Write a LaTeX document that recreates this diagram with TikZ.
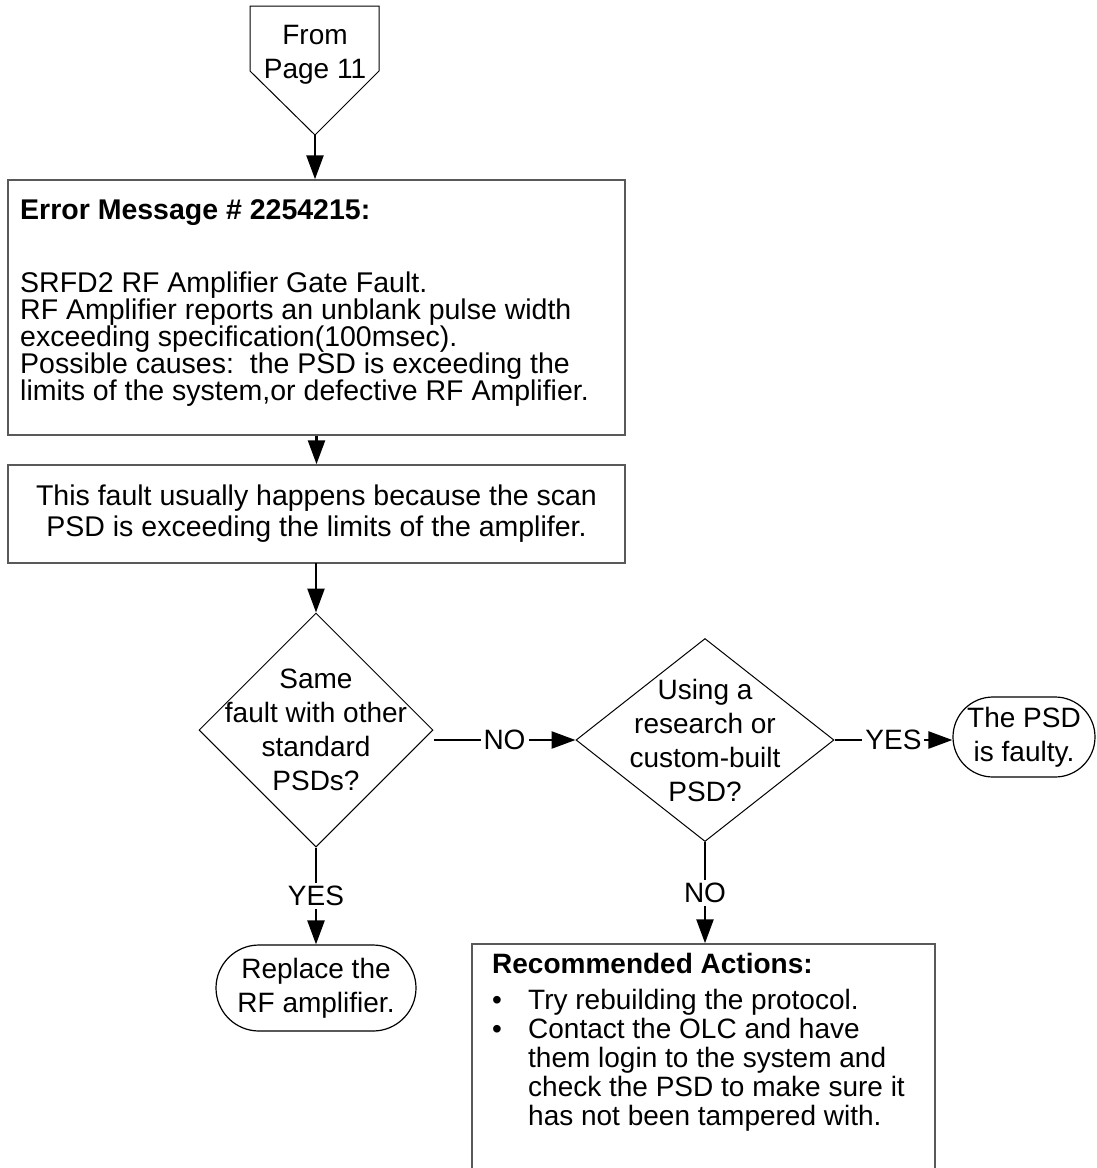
\documentclass[tikz,border=0pt]{standalone}
\usepackage{fontspec}
\setmainfont{Liberation Sans}
\usetikzlibrary{arrows.meta,shapes.geometric,shapes.misc}
\begin{document}
\begin{tikzpicture}[x=1pt,y=-1pt,
  every node/.style={font=\fontsize{28}{34}\selectfont},
  box/.style={draw=black!65, line width=1.5pt, fill=white, inner sep=0pt},
  boxtext/.style={inner sep=0pt, font=\fontsize{28.5}{27}\selectfont},
  decision/.style={diamond, draw, line width=1pt, inner sep=0pt},
  terminal/.style={rounded rectangle, draw, line width=1.2pt, fill=white, inner sep=0pt, align=center},
  flow/.style={line width=2.5pt, -{Triangle[length=24pt,width=17pt]}},
  lbl/.style={fill=white, inner sep=3pt},
  txt/.style={inner sep=0pt, align=center}]
\useasboundingbox (0,0) rectangle (1096,1168);
\clip (0,0) rectangle (1096,1168);

% off-page connector
\draw[line width=1pt] (250,6) -- (379,6) -- (379,71) -- (315,135) -- (250,71) -- cycle;
\node[txt] (src) at (315,55) {From\\Page 11};
\coordinate (srctip) at (315,135);

% error message box
\node[box, minimum width=617pt, minimum height=255pt] (err) at (316.5,307.5) {};
\node[boxtext, anchor=north west, align=left] (errtxt) at (20,199)
  {\textbf{Error Message \# 2254215:}\\[46pt]
   SRFD2 RF Amplifier Gate Fault.\\
   RF Amplifier reports an unblank pulse width\\
   exceeding specification(100msec).\\
   Possible causes:\ \ the PSD is exceeding the\\
   limits of the system,or defective RF Amplifier.};

% explanation box
\node[box, minimum width=617pt, minimum height=98pt] (why) at (316.5,514) {};
\node[boxtext, font=\fontsize{28.5}{31}\selectfont, align=center] (whytxt) at (why)
  {This fault usually happens because the scan\\
   PSD is exceeding the limits of the amplifer.};

% decisions
\node[decision, minimum width=234pt, minimum height=234pt] (d1) at (316,730) {};
\node[txt] (d1txt) at (d1) {Same\\fault with other\\standard\\PSDs?};
\node[decision, minimum width=258pt, minimum height=203pt] (d2) at (705,740) {};
\node[txt] (d2txt) at (d2) {Using a\\research or\\custom-built\\PSD?};

% terminals
\node[terminal, minimum width=200pt, minimum height=86pt] (rep) at (316,988) {Replace the\\RF amplifier.};
\node[terminal, minimum width=142pt, minimum height=80pt] (psd) at (1024,737) {The PSD\\is faulty.};

% recommended actions box
\node[box, minimum width=463pt, minimum height=260pt] (rec) at (703.5,1074) {};
\node[inner sep=0pt, font=\fontsize{28}{29}\selectfont, anchor=north west, align=left] (rectxt) at (492,953)
  {\textbf{Recommended Actions:}\\[7pt]
   \makebox[36pt][l]{\textbullet}Try rebuilding the protocol.\\
   \makebox[36pt][l]{\textbullet}Contact the OLC and have\\
   \hspace*{36pt}them login to the system and\\
   \hspace*{36pt}check the PSD to make sure it\\
   \hspace*{36pt}has not been tampered with.};

% connectors
\draw[flow] (srctip) -- (srctip |- err.north);
\draw[flow] (err.south) -- (why.north);
\draw[flow] (why.south) -- (why.south -| d1.north) -- (d1.north);
\draw[flow] (d1.east |- d2.west) -- node[lbl] {NO} (d2.west);
\draw[flow] (d2.east) -- node[lbl] {YES} (d2.east -| psd.west);
\draw[flow] (d1.south) -- node[lbl] {YES} (rep.north);
\draw[flow] (d2.south) -- node[lbl] {NO} (d2.south |- rec.north);
\end{tikzpicture}
\end{document}
